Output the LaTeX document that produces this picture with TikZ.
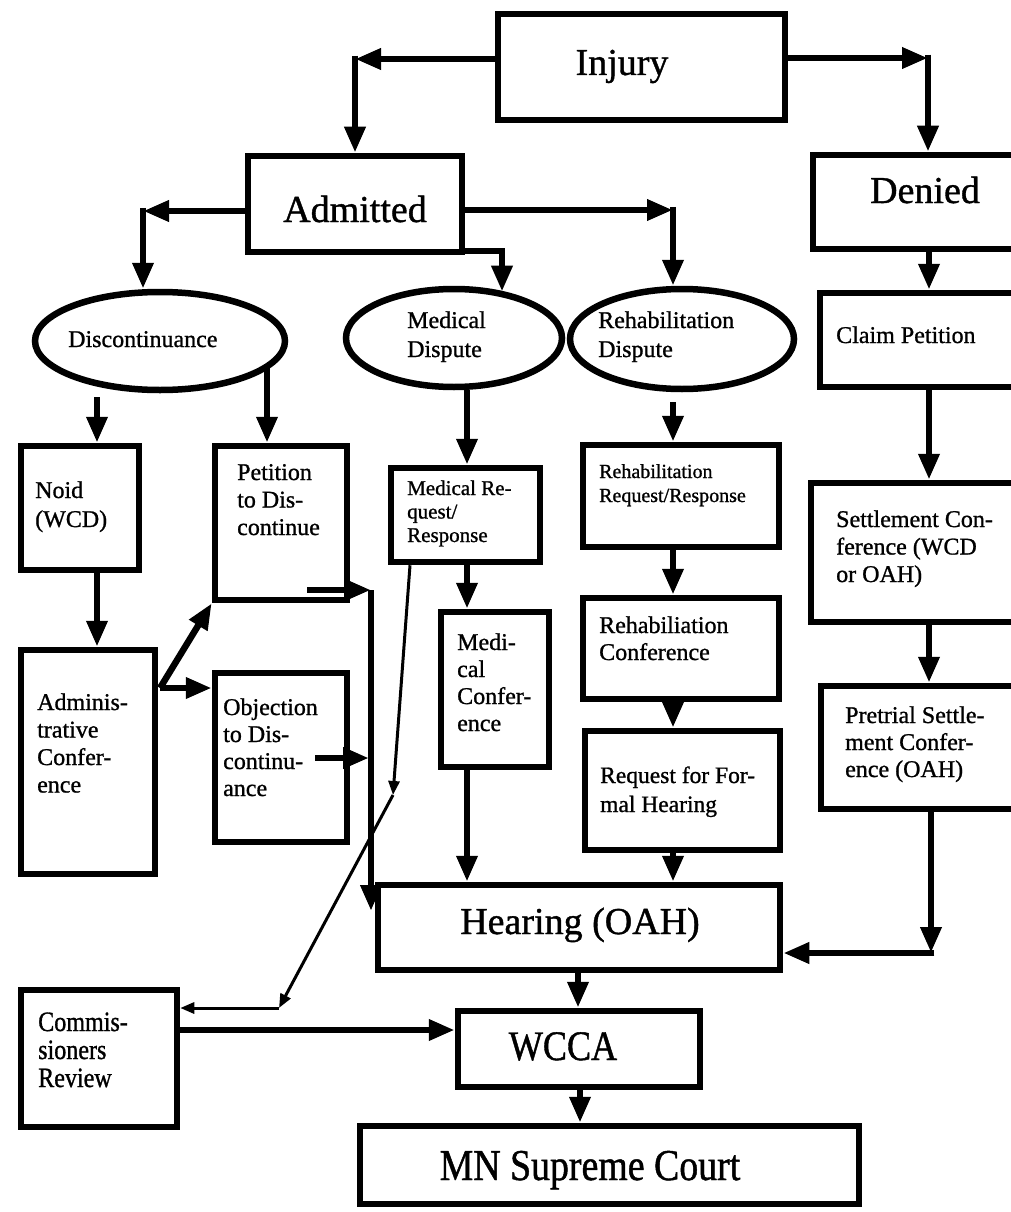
\documentclass[tikz,border=0pt]{standalone}
\usepackage{fontspec}
\setmainfont[FakeBold=1]{Liberation Serif}
\newfontfamily\condfont[FakeStretch=0.86,FakeBold=1]{Liberation Serif}
\usetikzlibrary{arrows.meta,shapes.geometric}
\newcommand\fsz[2]{\fontsize{#1}{#2}\selectfont}
\begin{document}
\begin{tikzpicture}[x=1pt,y=-1pt,
  box/.style={draw, line width=6.5pt, inner sep=0pt},
  oval/.style={draw, ellipse, line width=6.5pt, inner sep=0pt},
  seg/.style={line width=6.5pt},
  conn/.style={line width=6.5pt, -{Triangle[length=26pt,width=20pt]}},
  thinarrow/.style={line width=3pt, -{Triangle[length=14pt,width=11pt]}},
  lbl/.style={inner sep=0pt, align=left, anchor=base west, font=\fsz{24}{27.5}},
  big/.style={inner sep=0pt, anchor=base, font=\fsz{38}{40}}]
\fill[white] (0,0) rectangle (1011,1212);
\clip (0,0) rectangle (1011,1212);

% ---------- boxes ----------
\node[box, minimum width=287pt, minimum height=106pt] (injury) at (641.5,67) {};
\node[box, minimum width=214pt, minimum height=96pt] (admitted) at (355,204) {};
\node[box, minimum width=217pt, minimum height=94pt] (denied) at (921.5,202) {};
\node[oval, minimum width=250pt, minimum height=98pt] (disc) at (160,341) {};
\node[oval, minimum width=216pt, minimum height=98pt] (meddisp) at (454,338) {};
\node[oval, minimum width=224pt, minimum height=100pt] (rehabdisp) at (682,339) {};
\node[box, minimum width=118pt, minimum height=124pt] (noid) at (80,508) {};
\node[box, minimum width=132pt, minimum height=154pt] (petition) at (281,523) {};
\node[box, minimum width=134pt, minimum height=224pt] (admin) at (88,762) {};
\node[box, minimum width=132pt, minimum height=169pt] (objection) at (281,757.5) {};
\node[box, minimum width=149pt, minimum height=94pt] (medreq) at (465.5,515) {};
\node[box, minimum width=108pt, minimum height=155pt] (medconf) at (495,689.5) {};
\node[box, minimum width=196pt, minimum height=102pt] (rehabreq) at (681,496) {};
\node[box, minimum width=196pt, minimum height=101pt] (rehabconf) at (681,648.5) {};
\node[box, minimum width=195pt, minimum height=119pt] (formal) at (682.5,790.5) {};
\node[box, minimum width=210pt, minimum height=94pt] (claim) at (925,340) {};
\node[box, minimum width=219pt, minimum height=139pt] (settle) at (920.5,552.5) {};
\node[box, minimum width=209pt, minimum height=123pt] (pretrial) at (925.5,747.5) {};
\node[box, minimum width=402pt, minimum height=85pt] (hearing) at (579,927.5) {};
\node[box, minimum width=156pt, minimum height=137pt] (commis) at (99,1058.5) {};
\node[box, minimum width=242pt, minimum height=76pt] (wcca) at (579,1049) {};
\node[box, minimum width=499pt, minimum height=78pt] (supreme) at (609.5,1165) {};

% ---------- texts (multi-line: anchored at last line's baseline) ----------
\node[big] (injuryT) at (622,75) {Injury};
\node[big] (admittedT) at (355,222) {Admitted};
\node[big] (deniedT) at (925,203) {Denied};
\node[lbl] (discT) at (68,347) {Discontinuance};
\node[lbl, font=\fsz{24}{29}] (meddispT) at (407,357) {Medical\\Dispute};
\node[lbl, font=\fsz{24}{29}] (rehabdispT) at (598,357) {Rehabilitation\\Dispute};
\node[lbl, font=\fsz{24}{29}] (noidT) at (35,527) {Noid\\(WCD)};
\node[lbl] (petT) at (237,535) {Petition\\to Dis-\\continue};
\node[lbl] (adminT) at (37,792.5) {Adminis-\\trative\\Confer-\\ence};
\node[lbl, font=\fsz{24}{27}] (objT) at (223,796) {Objection\\to Dis-\\continu-\\ance};
\node[lbl, font=\fsz{21}{23.5}] (medreqT) at (407,542) {Medical Re-\\quest/\\Response};
\node[lbl, font=\fsz{24}{27}] (medconfT) at (457,731) {Medi-\\cal\\Confer-\\ence};
\node[lbl, font=\fsz{20}{24}] (rehabreqT) at (599,502) {Rehabilitation\\Request/Response};
\node[lbl, font=\fsz{24}{27}] (rehabconfT) at (599,660) {Rehabiliation\\Conference};
\node[lbl, font=\fsz{23.5}{29}] (formalT) at (600,812) {Request for For-\\mal Hearing};
\node[lbl] (claimT) at (836,343) {Claim Petition};
\node[lbl] (settleT) at (836,582) {Settlement Con-\\ference (WCD\\or OAH)};
\node[lbl, font=\fsz{24}{27}] (pretrialT) at (845,777) {Pretrial Settle-\\ment Confer-\\ence (OAH)};
\node[big] (hearingT) at (580,934) {Hearing (OAH)};
\node[lbl, font=\condfont\fsz{28}{28}] (commisT) at (38,1087) {Commis-\\sioners\\Review};
\node[big, font=\condfont\fsz{42}{44}] (wccaT) at (563,1060) {WCCA};
\node[big, font=\condfont\fsz{44}{46}] (supremeT) at (590,1180) {MN Supreme Court};

% ---------- connectors ----------
\coordinate (c1) at (355,59);
\draw[conn] (injury.west |- c1) -- (c1);
\draw[conn] ([yshift=3.25pt]c1) -- (c1 |- admitted.north);
\coordinate (c2) at (928,58);
\draw[conn] (injury.east |- c2) -- (c2);
\draw[conn] ([yshift=3.25pt]c2) -- (c2 |- denied.north);
\coordinate (c3) at (143,211);
\draw[conn] (admitted.west |- c3) -- (c3);
\draw[conn] ([yshift=3.25pt]c3) -- (c3 |- disc.north);
\coordinate (c4) at (673,210);
\draw[conn] (admitted.east |- c4) -- (c4);
\draw[conn] ([yshift=3.25pt]c4) -- (c4 |- rehabdisp.north);
\coordinate (c5) at (502,251);
\draw[seg] (admitted.east |- c5) -- ([xshift=3.25pt]c5);
\draw[conn] (c5) -- (c5 |- meddisp.42);

\coordinate (d1) at (97,397);
\draw[conn] (d1) -- (d1 |- noid.north);
\coordinate (dp) at (267,0);
\draw[conn] (dp |- disc.-13) -- (dp |- petition.north);
\draw[conn] (d1 |- noid.south) -- (d1 |- admin.north);
\coordinate (a1) at (160,688);
\draw[conn] (a1) -- (petition.south west);
\draw[conn] (a1) -- (a1 -| objection.west);

\coordinate (p1) at (307,590);
\coordinate (v1) at (371,590);
\coordinate (v2) at (371,911);
\draw[conn] (p1) -- (v1);
\draw[conn] (v1) -- (v2);
\coordinate (o1) at (315,758);
\coordinate (o2) at (369,758);
\draw[conn] (o1) -- (o2);

\coordinate (mc) at (467,0);
\draw[conn] (mc |- meddisp.south) -- (mc |- medreq.north);
\draw[conn] (mc |- medreq.south) -- (mc |- medconf.north);
\draw[conn] (mc |- medconf.south) -- (mc |- hearing.north);

\coordinate (r0) at (673,402);
\draw[conn] (r0) -- (r0 |- rehabreq.north);
\draw[conn] (r0 |- rehabreq.south) -- (r0 |- rehabconf.north);
\draw[conn] (r0 |- rehabconf.south) -- (r0 |- formal.north);
\draw[conn] (r0 |- formal.south) -- (r0 |- hearing.north);

\coordinate (dc) at (929,0);
\draw[conn] (dc |- denied.south) -- (dc |- claim.north);
\draw[conn] (dc |- claim.south) -- (dc |- settle.north);
\draw[conn] (dc |- settle.south) -- (dc |- pretrial.north);
\coordinate (h1) at (931,953);
\draw[conn] (h1 |- pretrial.south) -- (h1);
\draw[conn] ([xshift=3.25pt]h1) -- (h1 -| hearing.east);

\coordinate (wc) at (578,0);
\draw[conn] (wc |- hearing.south) -- (wc |- wcca.north);
\coordinate (sc) at (580,0);
\draw[conn] (sc |- wcca.south) -- (sc |- supreme.north);
\coordinate (cw) at (0,1030);
\draw[conn] (commis.east |- cw) -- (wcca.west |- cw);

\coordinate (t0) at (410,0);
\coordinate (t1) at (393,795);
\coordinate (t2) at (279,1008);
\draw[thinarrow] (t0 |- medreq.south) -- (t1);
\draw[thinarrow] (t1) -- (t2);
\draw[thinarrow] (t2) -- (t2 -| commis.east);
\end{tikzpicture}
\end{document}
